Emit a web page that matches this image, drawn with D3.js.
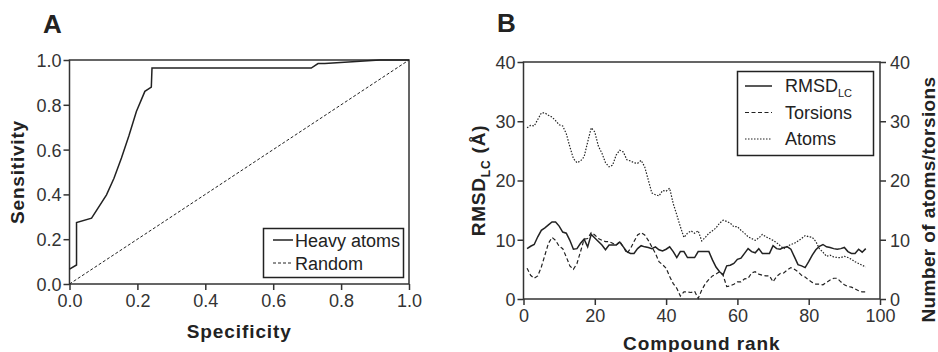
<!DOCTYPE html>
<html><head><meta charset="utf-8">
<script src="https://cdn.jsdelivr.net/npm/d3@7"></script>
<style>
body{margin:0;background:#fff;}
svg{display:block;font-family:"Liberation Sans",Arial,sans-serif;}
</style></head>
<body>
<svg id="chart" width="938" height="352"></svg>
<script>
// ---------- Panel A data (ROC) ----------
const rocSpecificity = [0, 0.0207, 0.0207, 0.065, 0.109, 0.131, 0.153, 0.175, 0.197, 0.222, 0.241, 0.243, 0.712, 0.732, 0.752, 0.914, 1.0];
const rocSensitivity = [0.066, 0.085, 0.274, 0.294, 0.398, 0.472, 0.562, 0.662, 0.770, 0.860, 0.879, 0.964, 0.964, 0.984, 0.984, 1.0, 1.0];
const randomLine = [0, 1];
const ticksA = [0, 0.2, 0.4, 0.6, 0.8, 1.0];
const legendA = ["Heavy atoms", "Random"];

// ---------- Panel B data ----------
const rank = d3.range(1, 97);
const rmsdLC = [8.5,8.9,9.2,10.5,11.6,12.0,12.5,13.0,13.0,12.3,11.3,11.1,9.9,8.4,8.5,9.4,10.1,8.8,10.9,10.3,
  9.7,9.1,8.3,9.1,9.1,9.1,9.6,8.8,8.0,7.7,7.7,8.5,9.0,8.8,8.7,8.5,8.8,8.3,8.1,8.4,
  8.8,8.0,7.0,8.0,8.0,7.0,7.0,7.0,8.0,8.0,8.0,8.0,6.6,5.4,4.6,4.1,5.6,5.7,6.0,6.7,
  6.9,7.7,8.5,8.0,7.8,8.5,7.7,7.7,7.7,9.0,8.5,8.4,8.7,8.8,8.4,7.1,5.8,5.6,5.3,6.3,
  7.4,8.3,8.9,9.2,8.8,8.7,8.5,8.4,8.5,8.7,8.0,7.7,7.7,8.4,7.9,8.5];
const torsions = [5.2,4.0,3.5,3.9,5.4,7.4,9.4,10.4,9.9,8.9,8.5,7.1,5.6,5.0,6.0,8.0,10.1,10.2,11.2,10.8,
  10.2,9.9,9.7,9.7,9.4,9.1,9.7,8.8,7.7,8.5,9.7,10.8,11.2,10.8,9.9,8.8,7.7,6.3,5.8,5.2,
  3.8,2.6,1.8,0.5,1.2,1.2,1.1,1.3,0.1,1.5,2.6,3.3,3.9,4.2,4.6,4.0,2.1,2.2,2.5,2.9,
  2.9,3.4,3.5,4.4,4.6,4.2,4.0,3.9,3.9,2.9,3.8,4.3,4.4,4.9,5.3,5.0,4.6,4.0,3.7,3.2,
  2.8,2.5,2.5,2.4,2.8,3.2,3.5,3.5,2.9,2.4,2.1,2.0,1.7,1.4,1.2,1.2];
const atoms = [28.9,29.3,29.2,30.3,31.4,31.4,31.0,30.7,30.1,29.4,29.2,27.9,25.7,23.7,23.0,23.3,24.0,26.5,28.9,28.2,
  25.8,24.6,23.0,22.3,22.6,24.3,25.1,24.8,23.5,23.3,23.0,22.9,23.4,22.3,20.1,17.9,17.6,17.4,18.3,18.2,
  18.7,16.1,14.2,12.2,10.4,11.1,11.5,11.1,11.5,9.8,10.4,11.1,11.5,12.0,12.8,13.3,13.1,12.8,12.2,12.2,
  11.6,11.1,10.5,10.2,9.9,10.3,10.9,10.5,10.2,9.9,9.5,9.0,8.5,8.9,9.2,9.4,9.8,10.2,10.7,10.5,
  10.4,9.7,8.5,7.9,7.2,7.4,7.1,7.0,7.0,7.2,7.0,6.7,6.3,6.0,5.7,5.4];
const ticksBx = [0, 20, 40, 60, 80, 100];
const ticksBy = [0, 10, 20, 30, 40];
const legendB = ["RMSD", "Torsions", "Atoms"];

const svg = d3.select("#chart");
const ink = "#222";
const axisColor = "#333";

function styleAxis(g){
  g.selectAll("path").remove();
  g.selectAll("line").attr("stroke", axisColor).attr("stroke-width", 1.5);
  g.selectAll("text").attr("fill", "#333").style("font-size", "18px")
   .style("font-family", '"Liberation Sans",Arial,sans-serif');
}
function title(sel, spacing){
  return sel.style("font-size", "19px").style("font-weight", "bold")
    .style("letter-spacing", spacing + "px").attr("fill", "#222");
}

// ===== Panel A =====
const A = {l: 69.5, r: 409, t: 60, b: 284};
const xA = d3.scaleLinear().domain([0, 1]).range([A.l, A.r]);
const yA = d3.scaleLinear().domain([0, 1]).range([A.b, A.t]);

svg.append("g").attr("transform", `translate(0,${A.b})`)
  .call(d3.axisBottom(xA).tickValues(ticksA).tickFormat(d3.format(".1f")).tickSize(6).tickPadding(4))
  .call(styleAxis);
svg.append("g").attr("transform", `translate(${A.l},0)`)
  .call(d3.axisLeft(yA).tickValues(ticksA).tickFormat(d3.format(".1f")).tickSize(6).tickPadding(2))
  .call(g => { styleAxis(g); g.selectAll("text").attr("dy", "0.36em"); });

svg.append("rect").attr("x", A.l).attr("y", A.t).attr("width", A.r - A.l).attr("height", A.b - A.t)
  .attr("fill", "none").attr("stroke", axisColor).attr("stroke-width", 1.5);

svg.append("path")
  .datum(randomLine)
  .attr("d", d3.line().x(d => xA(d)).y(d => yA(d)))
  .attr("fill", "none").attr("stroke", ink).attr("stroke-width", 1).attr("stroke-dasharray", "3,2");

svg.append("path")
  .datum(rocSpecificity.map((s, i) => [s, rocSensitivity[i]]))
  .attr("d", d3.line().x(d => xA(d[0])).y(d => yA(d[1])))
  .attr("fill", "none").attr("stroke", ink).attr("stroke-width", 1.5);

// legend A
svg.append("rect").attr("x", 263.5).attr("y", 228.5).attr("width", 140).attr("height", 49)
  .attr("fill", "#fff").attr("stroke", ink).attr("stroke-width", 1.5);
const dashesA = [null, "3,2"];
legendA.forEach((t, i) => {
  const yy = 240 + i * 23;
  svg.append("line").attr("x1", 273).attr("x2", 293).attr("y1", yy).attr("y2", yy)
    .attr("stroke", ink).attr("stroke-width", i === 0 ? 1.5 : 1).attr("stroke-dasharray", dashesA[i]);
  svg.append("text").attr("x", 295).attr("y", yy + 7).text(t)
    .style("font-size", "18px").attr("fill", "#222");
});

svg.append("text").attr("x", 43).attr("y", 33).text("A")
  .style("font-size", "26px").style("font-weight", "bold").attr("fill", "#222");
title(svg.append("text").attr("x", (A.l + A.r) / 2).attr("y", 338).attr("text-anchor", "middle")
  .text("Specificity"), 0.9);
title(svg.append("text").attr("transform", `translate(24,${(A.t + A.b) / 2}) rotate(-90)`)
  .attr("text-anchor", "middle").text("Sensitivity"), 0.8);

// ===== Panel B =====
const B = {l: 523.5, r: 880, t: 62, b: 299};
const xB = d3.scaleLinear().domain([0, 100]).range([B.l, B.r]);
const yBl = d3.scaleLinear().domain([0, 40]).range([B.b, B.t]);
const yBr = d3.scaleLinear().domain([0, 40]).range([B.b, B.t]);

svg.append("g").attr("transform", `translate(0,${B.b})`)
  .call(d3.axisBottom(xB).tickValues(ticksBx).tickSize(6).tickPadding(4))
  .call(styleAxis);
svg.append("g").attr("transform", `translate(${B.l},0)`)
  .call(d3.axisLeft(yBl).tickValues(ticksBy).tickSize(6).tickPadding(2))
  .call(g => { styleAxis(g); g.selectAll("text").attr("dy", "0.36em"); });
svg.append("g").attr("transform", `translate(${B.r},0)`)
  .call(d3.axisRight(yBr).tickValues(ticksBy).tickSize(6).tickPadding(4))
  .call(g => { styleAxis(g); g.selectAll("text").attr("dy", "0.36em"); });

svg.append("rect").attr("x", B.l).attr("y", B.t).attr("width", B.r - B.l).attr("height", B.b - B.t)
  .attr("fill", "none").attr("stroke", axisColor).attr("stroke-width", 1.5);

const lineL = d3.line().x((d, i) => xB(rank[i])).y(d => yBl(d));
const lineR = d3.line().x((d, i) => xB(rank[i])).y(d => yBr(d));
svg.append("path").datum(atoms).attr("d", lineR)
  .attr("fill", "none").attr("stroke", ink).attr("stroke-width", 1.2).attr("stroke-dasharray", "1.5,1.5");
svg.append("path").datum(torsions).attr("d", lineR)
  .attr("fill", "none").attr("stroke", ink).attr("stroke-width", 1.2).attr("stroke-dasharray", "4,2.5");
svg.append("path").datum(rmsdLC).attr("d", lineL)
  .attr("fill", "none").attr("stroke", ink).attr("stroke-width", 1.5);

// legend B
svg.append("rect").attr("x", 737.5).attr("y", 71.5).attr("width", 136).attr("height", 84)
  .attr("fill", "#fff").attr("stroke", ink).attr("stroke-width", 1.5);
const dashesB = [null, "4,2.5", "1.5,1.5"];
legendB.forEach((t, i) => {
  const yy = 86 + i * 26.5;
  svg.append("line").attr("x1", 745).attr("x2", 772).attr("y1", yy).attr("y2", yy)
    .attr("stroke", ink).attr("stroke-width", i === 0 ? 1.5 : 1.2).attr("stroke-dasharray", dashesB[i]);
  const tx = svg.append("text").attr("x", 785).attr("y", yy + 6).style("font-size", "18px").attr("fill", "#222");
  tx.append("tspan").text(t);
  if (i === 0) tx.append("tspan").attr("dy", 5).style("font-size", "11px").text("LC");
});

svg.append("text").attr("x", 497).attr("y", 32).text("B")
  .style("font-size", "26px").style("font-weight", "bold").attr("fill", "#222");
title(svg.append("text").attr("x", (B.l + B.r) / 2).attr("y", 350).attr("text-anchor", "middle")
  .text("Compound rank"), 0.9);
const yt = title(svg.append("text").attr("transform", `translate(485,${(B.t + B.b) / 2}) rotate(-90)`)
  .attr("text-anchor", "middle"), 0.8);
yt.append("tspan").text("RMSD");
yt.append("tspan").attr("dy", 5).style("font-size", "12px").text("LC");
yt.append("tspan").attr("dy", -5).text(" (Å)");
title(svg.append("text").attr("transform", `translate(935,${(B.t + B.b) / 2 + 19}) rotate(-90)`)
  .attr("text-anchor", "middle").text("Number of atoms/torsions"), 0.4);
</script>
</body></html>
